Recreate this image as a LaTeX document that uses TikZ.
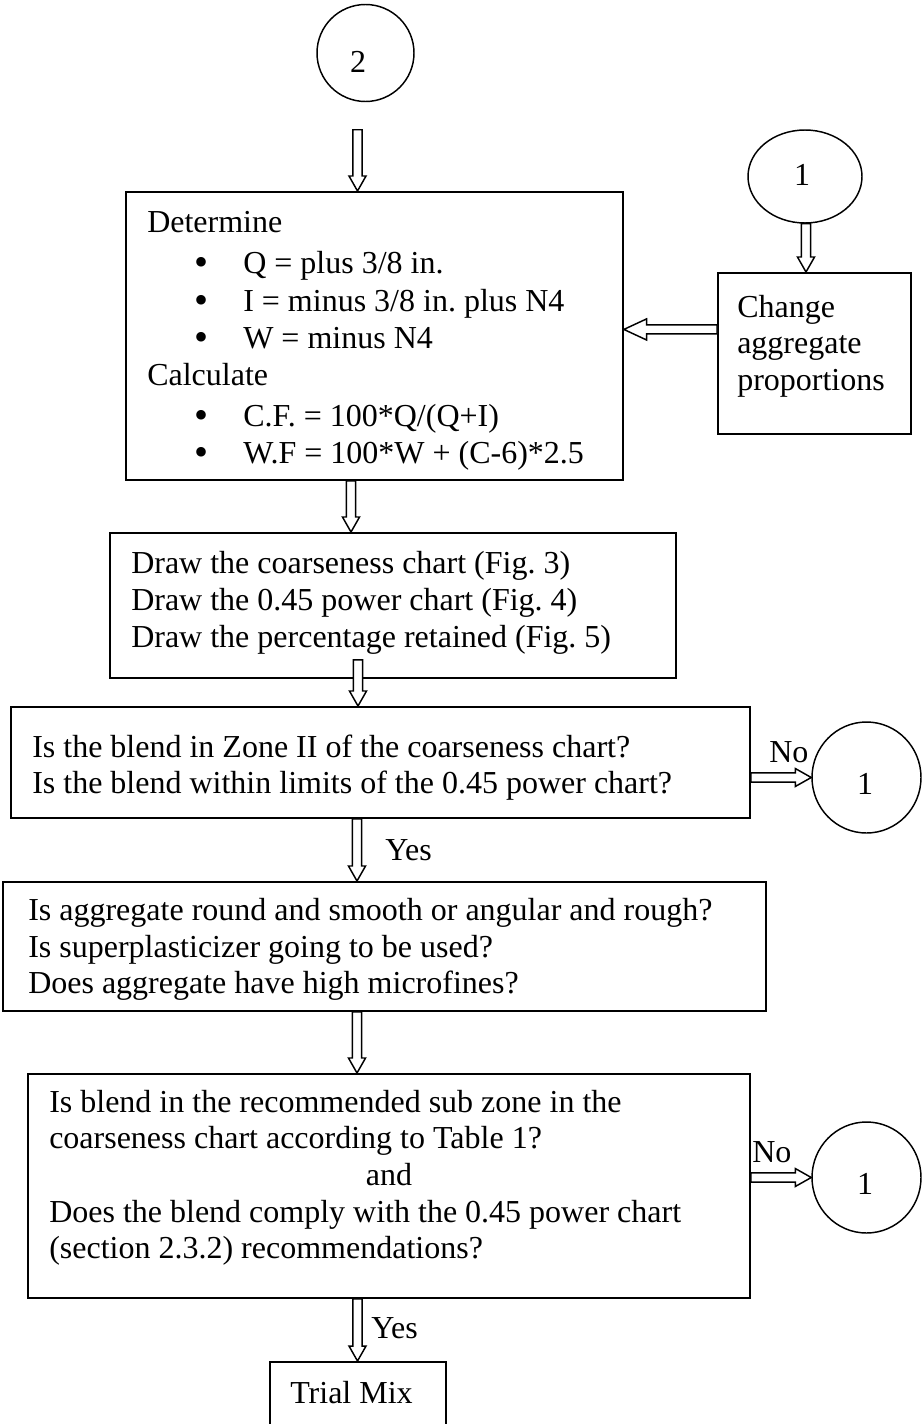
\documentclass[tikz,border=0pt]{standalone}
\usepackage{fontspec}
\setmainfont{Liberation Serif}
\usetikzlibrary{calc,shapes.geometric}
\frenchspacing
\newcommand{\blt}{\raisebox{-2.2pt}{\fontsize{30}{30}\selectfont •}}
% block arrows: #1 start, #2 tip, #3 head length, #4 head half-width
\newcommand{\arrdown}[4]{\draw[barr] let \p1=(#1), \p2=(#2) in
  (\x1-3.4pt,\y1) -- (\x1-3.4pt,\y2+#3) -- (\x1-#4,\y2+#3) -- (\x1,\y2) --
  (\x1+#4,\y2+#3) -- (\x1+3.4pt,\y2+#3) -- (\x1+3.4pt,\y1) -- cycle;}
\newcommand{\arrright}[4]{\draw[barr] let \p1=(#1), \p2=(#2) in
  (\x1,\y1+3.4pt) -- (\x2-#3,\y1+3.4pt) -- (\x2-#3,\y1+#4) -- (\x2,\y1) --
  (\x2-#3,\y1-#4) -- (\x2-#3,\y1-3.4pt) -- (\x1,\y1-3.4pt) -- cycle;}
\newcommand{\arrleft}[4]{\draw[barr] let \p1=(#1), \p2=(#2) in
  (\x1,\y1+3.4pt) -- (\x2+#3,\y1+3.4pt) -- (\x2+#3,\y1+#4) -- (\x2,\y1) --
  (\x2+#3,\y1-#4) -- (\x2+#3,\y1-3.4pt) -- (\x1,\y1-3.4pt) -- cycle;}
\begin{document}
\begin{tikzpicture}[x=0.75pt,y=-0.75pt,
  box/.style={draw, line width=1.4pt, rectangle, inner sep=0pt, anchor=north west},
  circ/.style={draw, line width=1.1pt, ellipse, inner sep=0pt},
  txt/.style={anchor=base west, inner sep=0pt, font=\fontsize{24}{28}\selectfont},
  ctxt/.style={anchor=base, inner sep=0pt, font=\fontsize{24}{28}\selectfont},
  barr/.style={draw, line width=1.1pt, fill=white, line join=miter}]
\useasboundingbox (0,0) rectangle (923,1424);
\clip (0,0) rectangle (923,1424);

% connector circles
\node[circ, minimum width=97*0.75pt, minimum height=97*0.75pt] (c2) at (365.5,53) {};
\node[ctxt] (c2t) at (358,72) {2};
\node[circ, minimum width=114*0.75pt, minimum height=93*0.75pt] (e1) at (805,176.5) {};
\node[ctxt] (e1t) at (802,185) {1};
\node[circ, minimum width=109*0.75pt, minimum height=111*0.75pt] (e2) at (866.5,777.5) {};
\node[ctxt] (e2t) at (865,794) {1};
\node[circ, minimum width=109*0.75pt, minimum height=111*0.75pt] (e3) at (866.5,1177.5) {};
\node[ctxt] (e3t) at (865,1194) {1};

% boxes
\node[box, minimum width=497*0.75pt, minimum height=288*0.75pt] (b1) at (125,191) {};
\node[box, minimum width=193*0.75pt, minimum height=161*0.75pt] (ch) at (717,272) {};
\node[box, minimum width=566*0.75pt, minimum height=145*0.75pt] (b2) at (109,532) {};
\node[box, minimum width=739*0.75pt, minimum height=111*0.75pt] (b3) at (10,706) {};
\node[box, minimum width=763*0.75pt, minimum height=129*0.75pt] (b4) at (2,881) {};
\node[box, minimum width=722*0.75pt, minimum height=224*0.75pt] (b5) at (27,1073) {};
\node[box, minimum width=176*0.75pt, minimum height=80*0.75pt] (tm) at (269,1361) {};

% box 1 text
\node[txt] at (147,232) {Determine};
\node[txt] at (194,273) {\blt};
\node[txt] at (243,273) {Q = plus 3/8 in.};
\node[txt] at (194,311) {\blt};
\node[txt] at (243,311) {I = minus 3/8 in. plus N4};
\node[txt] at (194,348) {\blt};
\node[txt] at (243,348) {W = minus N4};
\node[txt] at (147,385) {Calculate};
\node[txt] at (194,426) {\blt};
\node[txt] at (243,426) {C.F. = 100*Q/(Q+I)};
\node[txt] at (194,463) {\blt};
\node[txt] at (243,463) {W.F = 100*W + (C-6)*2.5};

% change box text
\node[txt] at (737,317) {Change};
\node[txt] at (737,353) {aggregate};
\node[txt] at (737,390) {proportions};

% box 2 text
\node[txt] at (131,573) {Draw the coarseness chart (Fig. 3)};
\node[txt] at (131,610) {Draw the 0.45 power chart (Fig. 4)};
\node[txt] at (131,647) {Draw the percentage retained (Fig. 5)};

% box 3 text
\node[txt] at (32,757) {Is the blend in Zone II of the coarseness chart?};
\node[txt] at (32,793) {Is the blend within limits of the 0.45 power chart?};

% box 4 text
\node[txt] at (28,920) {Is aggregate round and smooth or angular and rough?};
\node[txt] at (28,957) {Is superplasticizer going to be used?};
\node[txt] at (28,993) {Does aggregate have high microfines?};

% box 5 text
\node[txt] at (49,1112) {Is blend in the recommended sub zone in the};
\node[txt] at (49,1148) {coarseness chart according to Table 1?};
\node[ctxt] at (389,1185) {and};
\node[txt] at (49,1222) {Does the blend comply with the 0.45 power chart};
\node[txt] at (49,1258) {(section 2.3.2) recommendations?};

% trial mix
\node[txt] at (290,1403) {Trial Mix};

% arrows
\arrdown{$(c2.south)+(-8,27.5)$}{b1.north}{11.25pt}{6.4pt}
\arrdown{351,0 |- b1.south}{b2.north}{11.25pt}{6.4pt}
\arrdown{$(358,0 |- b2.south)+(0,-19)$}{b3.north}{11.25pt}{6.4pt}
\arrdown{357,0 |- b3.south}{b4.north}{11.25pt}{6.4pt}
\arrdown{357,0 |- b4.south}{b5.north}{11.25pt}{6.4pt}
\arrdown{357.5,0 |- b5.south}{tm.north}{11.25pt}{6.4pt}
\arrdown{806,0 |- e1.south}{ch.north}{11.25pt}{6.4pt}
\arrleft{$(ch.west)+(0,-24)$}{b1.east}{17pt}{7.9pt}
\arrright{b3.east |- e2}{e2.west}{12pt}{6.75pt}
\arrright{b5.east |- e3}{e3.west}{12pt}{6.75pt}

% labels
\node[txt] at (385,860) {Yes};
\node[txt] at (371,1338) {Yes};
\node[txt] at (769,762) {No};
\node[txt] at (752,1162) {No};
\end{tikzpicture}
\end{document}
